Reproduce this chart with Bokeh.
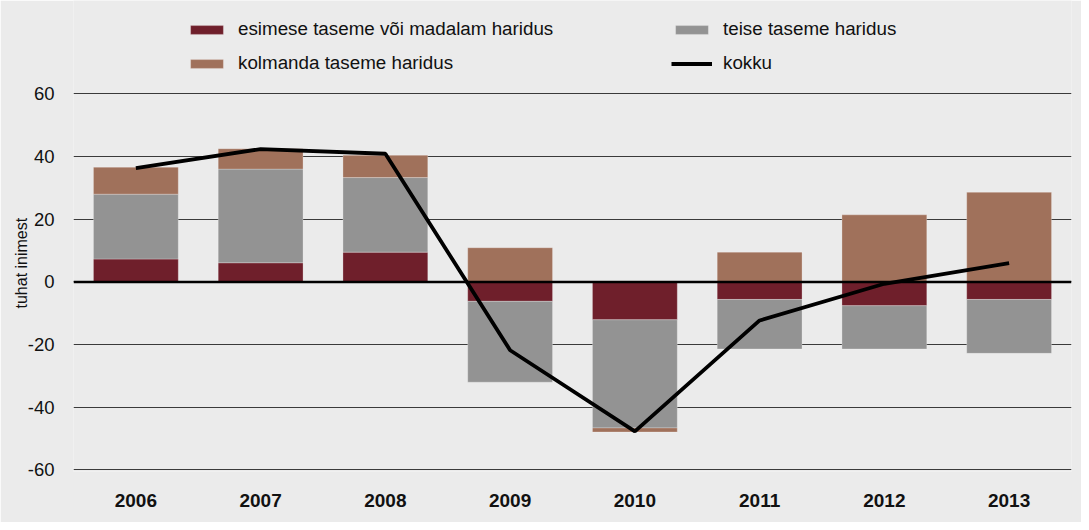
import numpy as np
from bokeh.plotting import figure
from bokeh.models import (ColumnDataSource, FactorRange, Range1d, FixedTicker,
                          Legend, LegendItem, Span, Title, CustomJSTickFormatter)
from bokeh.embed import file_html
from bokeh.resources import INLINE

years = ["2006", "2007", "2008", "2009", "2010", "2011", "2012", "2013"]
esimese = [7.3, 6.1, 9.5, -6.2, -12.1, -5.6, -7.6, -5.6]
teise = [20.7, 29.9, 23.8, -25.8, -34.5, -15.8, -13.8, -17.2]
kolmanda = [8.6, 6.5, 7.1, 10.9, -1.3, 9.5, 21.4, 28.6]
kokku = [36.3, 42.4, 40.9, -21.8, -47.7, -12.3, -0.6, 6.0]
y_ticks = [-60, -40, -20, 0, 20, 40, 60]

series = [
    ("esimese taseme või madalam haridus", esimese, "#6F1F2B"),
    ("teise taseme haridus", teise, "#939393"),
    ("kolmanda taseme haridus", kolmanda, "#A0715B"),
]

BG = "#EBEBEB"
FONT = "Liberation Sans"
TXT = "#111111"

p = figure(width=1081, height=522, output_backend="svg", toolbar_location=None,
           x_range=FactorRange(*years), y_range=Range1d(-60.5, 89.8),
           min_border_left=73, min_border_right=10, min_border_top=0,
           min_border_bottom=51)
p.background_fill_color = BG
p.border_fill_color = BG
p.outline_line_color = None

p.xgrid.grid_line_color = None
p.ygrid.grid_line_color = "#3a3a3a"
p.ygrid.grid_line_width = 1.2
p.yaxis.ticker = FixedTicker(ticks=y_ticks)
p.yaxis.formatter = CustomJSTickFormatter(code="return tick.toString();")

# stacked bars (positive and negative stacks separately)
pos_acc = np.zeros(len(years))
neg_acc = np.zeros(len(years))
renderers = {}
for name, vals, color in series:
    v = np.array(vals, dtype=float)
    bottom = np.where(v >= 0, pos_acc, neg_acc + v)
    top = np.where(v >= 0, pos_acc + v, neg_acc)
    pos_acc = pos_acc + np.where(v >= 0, v, 0)
    neg_acc = neg_acc + np.where(v < 0, v, 0)
    src = ColumnDataSource(dict(x=years, top=top, bottom=bottom))
    r = p.vbar(x="x", top="top", bottom="bottom", width=0.68, source=src,
               fill_color=color, line_color="white", line_alpha=0.25, line_width=1)
    renderers[name] = r

zero = Span(location=0, dimension="width", line_color="black", line_width=2.5)
p.add_layout(zero)

line_src = ColumnDataSource(dict(x=years, y=kokku))
lr = p.line(x="x", y="y", source=line_src, line_color="black", line_width=3.8)

# axes
p.xaxis.axis_line_color = None
p.xaxis.major_tick_line_color = None
p.xaxis.minor_tick_line_color = None
p.xaxis.major_label_text_font = FONT
p.xaxis.major_label_text_font_size = "19px"
p.xaxis.major_label_text_font_style = "bold"
p.xaxis.major_label_text_color = TXT
p.xaxis.major_label_standoff = 16

p.yaxis.axis_line_color = None
p.yaxis.major_tick_line_color = None
p.yaxis.minor_tick_line_color = None
p.yaxis.major_label_text_font = FONT
p.yaxis.major_label_text_font_size = "18.5px"
p.yaxis.major_label_text_color = TXT
p.yaxis.major_label_standoff = 13

ytitle = Title(text="tuhat inimest", align="left", offset=163,
               vertical_align="top", standoff=-15,
               text_font=FONT, text_font_size="16px", text_font_style="normal",
               text_color=TXT)
p.add_layout(ytitle, "left")

def make_legend(items, loc):
    lg = Legend(items=items, location=loc, orientation="vertical",
                margin=0, padding=0, spacing=12,
                glyph_width=41, glyph_height=11, label_height=21,
                label_standoff=11,
                label_text_font=FONT, label_text_font_size="18.8px",
                label_text_color=TXT,
                border_line_color=None, background_fill_alpha=0)
    return lg

lg1 = make_legend([
    LegendItem(label="esimese taseme või madalam haridus",
               renderers=[renderers["esimese taseme või madalam haridus"]]),
    LegendItem(label="kolmanda taseme haridus",
               renderers=[renderers["kolmanda taseme haridus"]]),
], (113, 397))
lg2 = make_legend([
    LegendItem(label="teise taseme haridus",
               renderers=[renderers["teise taseme haridus"]]),
    LegendItem(label="kokku", renderers=[lr]),
], (598, 397))
p.add_layout(lg1)
p.add_layout(lg2)

open("out.html", "w").write(file_html(p, INLINE))
